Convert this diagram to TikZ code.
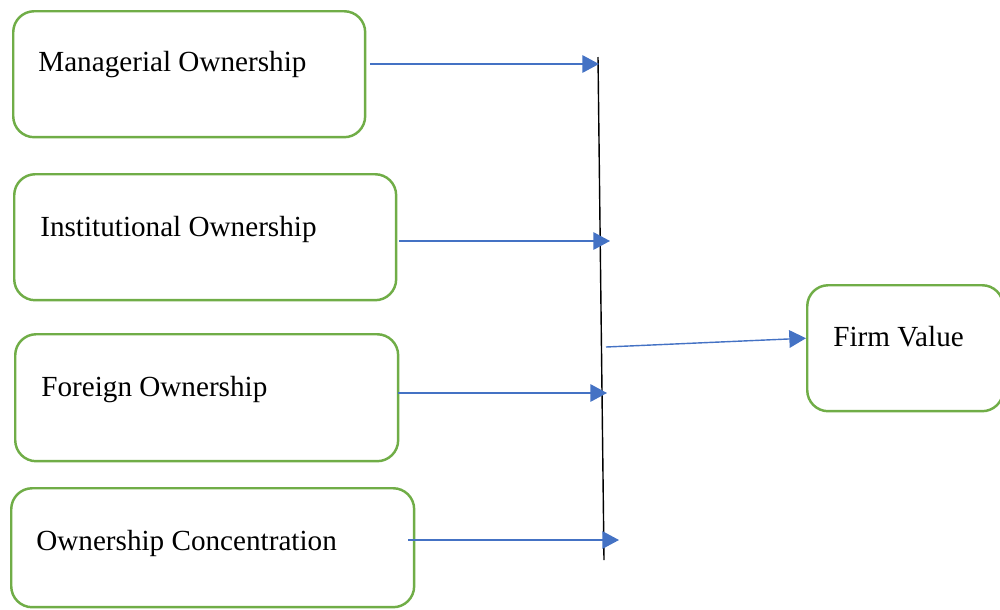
\documentclass[tikz,border=0pt]{standalone}
\usepackage{fontspec}
\setmainfont{Liberation Serif}
\usetikzlibrary{arrows.meta}
\definecolor{boxgreen}{HTML}{70AD47}
\definecolor{linkblue}{HTML}{4472C4}
\begin{document}
\begin{tikzpicture}[x=0.02cm,y=-0.02cm,
    box/.style={draw=boxgreen,line width=1.4pt,rounded corners=0.42cm,anchor=north west,
      inner sep=0pt,minimum height=2.52cm},
    lbl/.style={anchor=base west,inner sep=0pt,font=\fontsize{16.6}{20}\selectfont},
    link/.style={linkblue,line width=0.8pt,-{Triangle[length=9.5pt,width=10pt]}}]
  \useasboundingbox (0,0) rectangle (1000,609);
  % ownership boxes
  \node[box,minimum width=7.04cm] (mo) at (12,10) {};
  \node[box,minimum width=7.64cm] (io) at (13,173) {};
  \node[box,minimum width=7.66cm,minimum height=2.54cm] (fo) at (14,333) {};
  \node[box,minimum width=8.06cm,minimum height=2.38cm] (oc) at (10,487) {};
  \node[box,minimum width=3.92cm] (fv) at (806,284) {};
  \node[lbl] (mot) at ([shift={(26,61)}]mo.north west) {Managerial Ownership};
  \node[lbl] (iot) at ([shift={(27,63)}]io.north west) {Institutional Ownership};
  \node[lbl] (fot) at ([shift={(27,63)}]fo.north west) {Foreign Ownership};
  \node[lbl] (oct) at ([shift={(26,63)}]oc.north west) {Ownership Concentration};
  \node[lbl] (fvt) at ([shift={(27,62)}]fv.north west) {Firm Value};
  % joining line
  \coordinate (top) at (598,57);
  \coordinate (bot) at (604,560);
  \draw[line width=0.8pt] (top) -- (bot);
  \coordinate (e1) at (599,64);
  \coordinate (e2) at (610,241);
  \coordinate (e3) at (607,393);
  \coordinate (e4) at (619,540);
  \coordinate (s5) at (606,347);
  \draw[link] ([xshift=2pt]mo.east |- e1) -- (e1);
  \draw[link] ([xshift=1pt]io.east |- e2) -- (e2);
  \draw[link] ([xshift=-1pt]fo.east |- e3) -- (e3);
  \draw[link] ([xshift=-4pt]oc.east |- e4) -- (e4);
  \draw[link] (s5) -- ([shift={(0,-10)}]fv.west);
\end{tikzpicture}
\end{document}
